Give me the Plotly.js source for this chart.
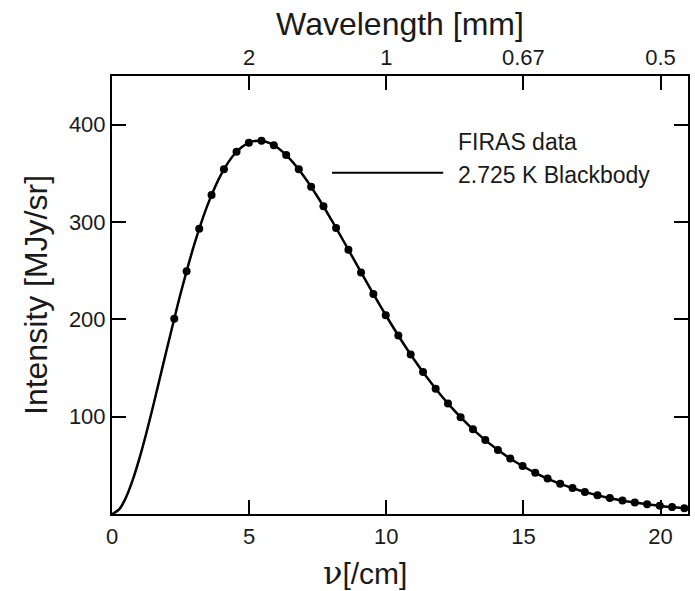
<!DOCTYPE html>
<html>
<head>
<meta charset="utf-8">
<script src="https://cdn.plot.ly/plotly-3.0.1.min.js"></script>
<style>html,body{margin:0;padding:0;background:#fff;}#chart{width:695px;height:591px;}</style>
</head>
<body>
<div id="chart"></div>
<script>
// FIRAS measured spectrum: frequency [/cm] and intensity [MJy/sr]
var firasNu = [2.27, 2.72, 3.18, 3.63, 4.08, 4.54, 4.99, 5.45, 5.90, 6.35, 6.81, 7.26, 7.71, 8.17, 8.62, 9.08, 9.53, 9.98, 10.44, 10.89, 11.34, 11.80, 12.25, 12.71, 13.16, 13.61, 14.07, 14.52, 14.97, 15.43, 15.88, 16.34, 16.79, 17.24, 17.70, 18.15, 18.61, 19.06, 19.51, 19.97, 20.42, 20.87, 21.33];
var firasI = [200.7, 249.5, 293.0, 327.8, 354.1, 372.1, 381.5, 383.5, 378.9, 368.8, 354.1, 336.3, 316.1, 293.9, 271.4, 248.2, 225.9, 204.3, 183.3, 163.8, 145.8, 128.8, 113.6, 99.5, 87.0, 75.9, 65.8, 57.0, 49.2, 42.3, 36.4, 31.1, 26.6, 22.6, 19.3, 16.4, 13.8, 11.7, 9.9, 8.4, 7.1, 5.8, 4.5];

// 2.725 K blackbody curve
var bbNu = [0, 0.25, 0.5, 0.75, 1, 1.25, 1.5, 1.75, 2, 2.5, 3, 3.5, 4, 4.5, 5, 5.5, 6, 6.5, 7, 7.5, 8, 8.5, 9, 9.5, 10, 10.5, 11, 11.5, 12, 12.5, 13, 13.5, 14, 14.5, 15, 15.5, 16, 16.5, 17, 17.5, 18, 18.5, 19, 19.5, 20, 20.5, 21];
var bbI = [0, 4.4, 16.4, 34.5, 57.1, 83.0, 111.0, 140.2, 169.5, 226.3, 276.9, 318.6, 350.0, 370.9, 381.6, 383.3, 377.1, 364.4, 346.8, 325.7, 302.2, 277.5, 252.3, 227.4, 203.4, 180.6, 159.3, 139.7, 121.8, 105.7, 91.3, 78.5, 67.2, 57.3, 48.8, 41.3, 34.9, 29.4, 24.7, 20.7, 17.3, 14.4, 12.0, 9.95, 8.24, 6.82, 5.63];

// axis ticks
var nuTicks = [0, 5, 10, 15, 20];
var wlTickVals = [5, 10, 15, 20];
var wlTickText = ['2', '1', '0.67', '0.5'];
var yTicks = [100, 200, 300, 400];

var FONT = 'Liberation Sans, Arial, Helvetica, sans-serif';
var INK = '#1a1a1a';

var traces = [
  {x: bbNu, y: bbI, type: 'scatter', mode: 'lines', name: '2.725 K Blackbody',
   line: {color: '#000', width: 2.5, shape: 'spline', smoothing: 1}, hoverinfo: 'skip', showlegend: false},
  {x: firasNu, y: firasI, type: 'scatter', mode: 'markers', name: 'FIRAS data',
   marker: {color: '#000', size: 8}, showlegend: false},
  {x: [], y: [], xaxis: 'x2', type: 'scatter', mode: 'markers', showlegend: false, hoverinfo: 'skip'}
];

var axisCommon = {
  showgrid: false, zeroline: false, showline: true, linecolor: '#000', linewidth: 2,
  ticks: 'inside', ticklen: 14, tickwidth: 2, tickcolor: '#000',
  tickfont: {family: FONT, size: 22, color: INK}
};

var layout = {
  width: 695, height: 591,
  margin: {l: 112, r: 7, t: 76, b: 77},
  paper_bgcolor: '#fff', plot_bgcolor: '#fff',
  showlegend: false,
  xaxis: Object.assign({}, axisCommon, {
    range: [0, 21], tickmode: 'array', tickvals: nuTicks, ticktext: nuTicks.map(String),
    ticklabelstandoff: 2
  }),
  xaxis2: Object.assign({}, axisCommon, {
    overlaying: 'x', side: 'top', range: [0, 21], tickmode: 'array',
    tickvals: wlTickVals, ticktext: wlTickText, ticklabelstandoff: 0,
    title: {text: 'Wavelength [mm]', font: {family: FONT, size: 32, color: INK}, standoff: 0}
  }),
  yaxis: Object.assign({}, axisCommon, {
    range: [0, 450], tickmode: 'array', tickvals: yTicks, ticktext: yTicks.map(String),
    mirror: 'ticks', ticklabelstandoff: 0,
    title: {text: 'Intensity [MJy/sr]', font: {family: FONT, size: 32, color: INK}, standoff: 12}
  }),
  annotations: [
    {xref: 'paper', yref: 'paper', x: 0.439, y: -0.135, xanchor: 'center', yanchor: 'middle', showarrow: false,
     text: '<span style="font-family:\'DejaVu Serif\', serif;font-size:32px">ν</span>[/cm]',
     font: {family: FONT, size: 30, color: INK}},
    {xref: 'paper', yref: 'paper', x: 0.597, y: 0.849, xanchor: 'left', yanchor: 'middle', showarrow: false,
     text: 'FIRAS data', font: {family: FONT, size: 23, color: INK}},
    {xref: 'paper', yref: 'paper', x: 0.597, y: 0.774, xanchor: 'left', yanchor: 'middle', showarrow: false,
     text: '2.725 K Blackbody', font: {family: FONT, size: 23, color: INK}}
  ],
  shapes: [
    {type: 'line', xref: 'paper', yref: 'paper', x0: 0.382, x1: 0.575, y0: 0.779, y1: 0.779,
     line: {color: '#000', width: 2}}
  ]
};

Plotly.newPlot('chart', traces, layout, {displayModeBar: false, staticPlot: true});
</script>
</body>
</html>
